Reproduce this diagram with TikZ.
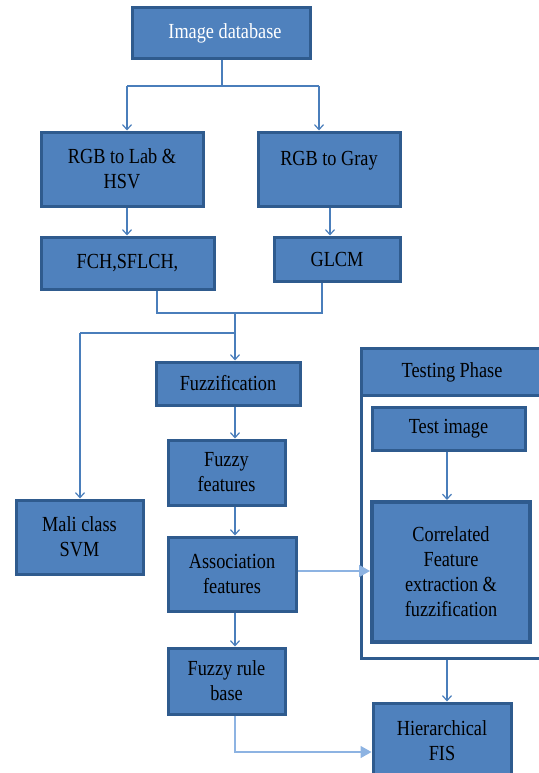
\documentclass[tikz,border=0pt]{standalone}
\usepackage{fontspec}
\setmainfont{Liberation Serif}[FakeStretch=0.85]
\usetikzlibrary{arrows.meta}
\definecolor{boxfill}{HTML}{4F81BD}
\definecolor{boxline}{HTML}{2F5B8E}
\definecolor{conn}{HTML}{4A7EBB}
\definecolor{lightconn}{HTML}{8DB3E2}
\tikzset{
  txt/.style={font=\fontsize{21.5}{25}\selectfont},
  blk/.style={draw=boxline, line width=3pt, fill=boxfill, align=center, inner sep=2pt,
    txt, text=black},
  wire/.style={draw=conn, line width=1.3pt},
  arr/.style={wire, -{Straight Barb[length=5pt,width=9pt,line width=1.2pt]}},
  bigarr/.style={draw=lightconn, line width=1.5pt, -{Triangle[length=11pt,width=12pt]}},
}
\begin{document}
\begin{tikzpicture}[x=1pt,y=-1pt]
\useasboundingbox (0,0) rectangle (538,773);
% testing phase frame
\node[draw=boxline, line width=3pt, fill=white, minimum width=187pt, minimum height=310pt, inner sep=0pt] (frame) at (454.5,503) {};
\node[blk, minimum width=187pt, minimum height=47pt] (header) at (454.5,371.5) {};
\node[txt] (htext) at (452,372) {Testing Phase};
% nodes
\node[blk, text=white, minimum width=178pt, minimum height=51pt] (imgdb) at (221,33.5) {\hspace*{8pt}Image database};
\node[blk, minimum width=162pt, minimum height=74pt] (lab) at (122,169) {RGB to Lab \&\\HSV};
\node[blk, minimum width=142pt, minimum height=74pt] (gray) at (329,169) {RGB to Gray\\[-4pt]\mbox{}};
\node[blk, minimum width=173pt, minimum height=52pt] (fch) at (127.5,263) {FCH,SFLCH,};
\node[blk, minimum width=126pt, minimum height=44pt] (glcm) at (337,259) {GLCM};
\node[blk, minimum width=144pt, minimum height=43pt] (fuzz) at (228,383.5) {Fuzzification};
\node[blk, minimum width=117pt, minimum height=65pt] (ff) at (226.5,472.5) {Fuzzy\\features};
\node[blk, minimum width=128pt, minimum height=74pt] (assoc) at (232,574) {Association\\features};
\node[blk, minimum width=127pt, minimum height=74pt] (svm) at (79.5,537) {Mali class\\SVM};
\node[blk, minimum width=117pt, minimum height=66pt] (rule) at (226.5,681) {Fuzzy rule\\base};
\node[blk, minimum width=138pt, minimum height=76pt] (fis) at (442,741) {Hierarchical\\FIS};
\node[blk, minimum width=153pt, minimum height=43pt] (test) at (448.5,428.5) {Test image};
\node[blk, line width=4pt, minimum width=158pt, minimum height=140pt] (corr) at (451,572) {Correlated\\Feature\\extraction \&\\fuzzification};
% bus coordinates
\coordinate (b1) at (222,86);
\coordinate (b1l) at (127,86);
\coordinate (b1r) at (319,86);
\coordinate (b2l) at (157,313);
\coordinate (b2r) at (322,313);
\coordinate (b2m) at (235,313);
\coordinate (b3) at (235,333);
\coordinate (b3l) at (80,333);
\coordinate (a1) at (300,571);
% connectors
\draw[wire] (imgdb.south -| b1) -- (b1);
\draw[wire] (b1l) -- (b1r);
\draw[arr] (b1l) -- (b1l |- lab.north);
\draw[arr] (b1r) -- (b1r |- gray.north);
\draw[arr] (lab.south -| b1l) -- (b1l |- fch.north);
\coordinate (g1) at (330,206);
\draw[arr] (gray.south -| g1) -- (g1 |- glcm.north);
\draw[wire] (fch.south -| b2l) -- (b2l) -- (b2r) -- (b2r |- glcm.south);
\draw[arr] (b2m) -- (b2m |- fuzz.north);
\draw[wire] (b3) -- (b3l);
\draw[arr] (b3l) -- (b3l |- svm.north);
\draw[arr] (fuzz.south -| b2m) -- (b2m |- ff.north);
\draw[arr] (ff.south -| b2m) -- (b2m |- assoc.north);
\draw[arr] (assoc.south -| b2m) -- (b2m |- rule.north);
\coordinate (r1) at (235,752);
\draw[bigarr] (rule.south -| r1) -- (r1) -- (r1 -| fis.west);
\draw[bigarr] (assoc.east |- a1) -- (corr.west |- a1);
\coordinate (t1) at (447,450);
\draw[arr] (test.south -| t1) -- (t1 |- corr.north);
\draw[arr] (frame.south -| t1) -- (t1 |- fis.north);
\end{tikzpicture}
\end{document}
